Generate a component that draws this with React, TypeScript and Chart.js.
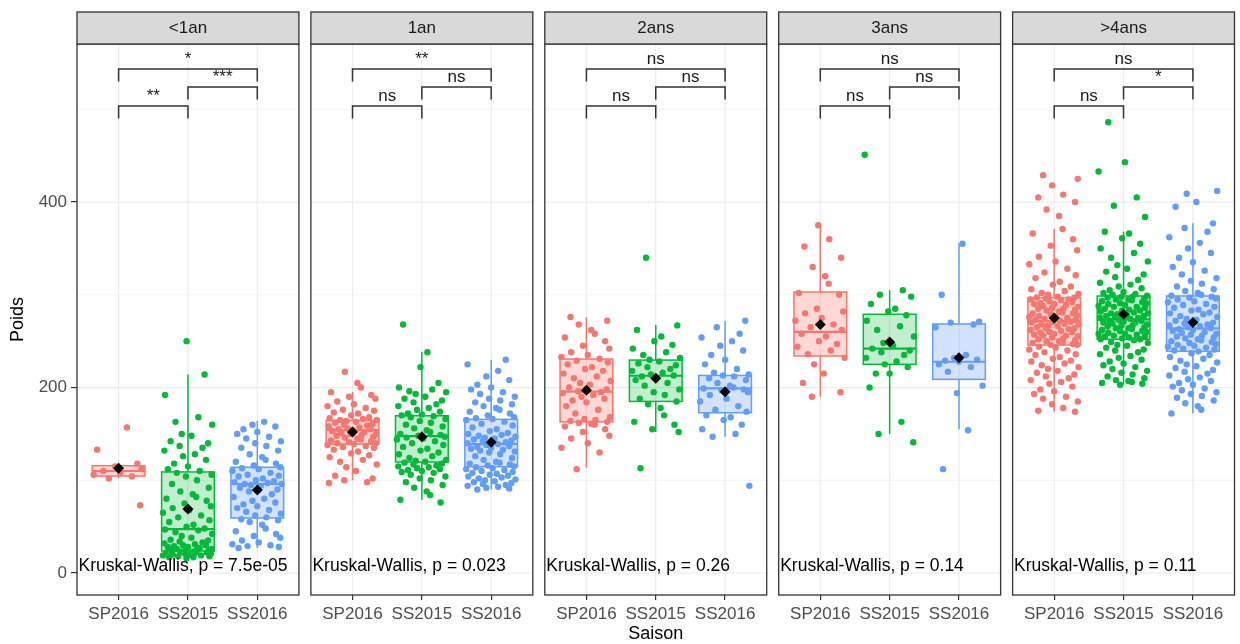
import React, { useEffect, useRef } from 'react';
import { Chart, registerables } from 'chart.js';

Chart.register(...registerables);

// ---------- data ----------
const PANELS = ['<1an', '1an', '2ans', '3ans', '>4ans'];
const CATEGORIES = ['SP2016', 'SS2015', 'SS2016'];
const Y_TICKS = [0, 200, 400];
const Y_MINOR = [100, 300, 500];

// box statistics [panel][category]
const Q1 = [[104.6, 23.7, 59.3], [139, 119.7, 114.6], [163, 185, 172.8], [234, 225, 208.8], [245.8, 252, 239]];
const MEDIAN = [[110, 47.4, 96], [154, 147.7, 139], [195.5, 212.7, 199], [260, 242, 227.8], [271.7, 273.5, 263.8]];
const Q3 = [[115.7, 109, 114], [164.6, 169.6, 165.7], [230.7, 229.6, 213], [303, 279, 268.5], [297, 298.7, 298.7]];
const WHISK_LO = [[102, 17, 27], [100, 79, 90], [113.5, 152, 147], [190, 150, 155], [174, 203, 172]];
const WHISK_HI = [[118, 214, 164], [195, 238.6, 229.6], [275.7, 267.4, 271.7], [373, 305, 355.5], [371, 368, 377]];
const MEAN = [[113, 69, 89.5], [152, 147, 141], [197, 210, 195.5], [268, 249, 232], [275, 279, 270]];

// observations
const LT1_SP2016 = [157, 133, 118, 115, 112, 110, 108, 106, 104, 102, 73];
const LT1_SS2015 = [250, 214, 192, 168, 163, 160, 150, 148, 142, 140, 137, 135, 132, 128, 126, 122, 118, 115, 112, 110, 108, 106, 104, 100, 96, 92, 88, 85, 82, 80, 78, 75, 72, 70, 68, 65, 62, 60, 57, 55, 52, 50, 48, 47, 46, 44, 42, 40, 38, 36, 35, 34, 33, 32, 31, 30, 30, 29, 28, 28, 27, 26, 26, 25, 25, 24, 24, 23, 23, 22, 22, 22, 21, 21, 20, 20, 19, 19, 18, 18, 17, 17, 16];
const LT1_SS2016 = [163, 160, 158, 155, 152, 150, 147, 145, 142, 140, 137, 135, 132, 128, 125, 122, 120, 118, 116, 114, 113, 112, 110, 108, 106, 105, 104, 102, 100, 99, 98, 97, 96, 96, 95, 94, 92, 90, 88, 85, 82, 80, 78, 76, 74, 72, 70, 68, 66, 64, 62, 60, 58, 57, 55, 52, 48, 45, 42, 40, 38, 35, 33, 31, 30, 29, 28, 27];

const A1_SP2016 = [217, 205, 200, 195, 192, 190, 188, 185, 182, 180, 178, 176, 175, 173, 172, 170, 168, 167, 166, 165, 165, 164, 163, 162, 161, 160, 159, 158, 157, 156, 155, 155, 154, 153, 152, 151, 150, 150, 149, 148, 147, 146, 145, 144, 143, 142, 141, 140, 140, 139, 138, 137, 136, 135, 133, 131, 129, 127, 125, 122, 120, 117, 114, 110, 105, 102, 100, 98, 97];
const A1_SS2015 = [268, 238, 222, 205, 200, 198, 196, 195, 193, 190, 188, 186, 184, 182, 180, 178, 176, 174, 172, 171, 170, 169, 168, 166, 164, 162, 160, 158, 156, 154, 152, 150, 149, 148, 147, 146, 145, 144, 142, 140, 138, 136, 134, 132, 130, 128, 126, 124, 122, 121, 120, 119, 118, 117, 116, 115, 114, 113, 112, 111, 110, 109, 108, 106, 104, 102, 100, 98, 95, 92, 88, 84, 79, 76];
const A1_SS2016 = [230, 225, 218, 212, 208, 203, 200, 198, 195, 193, 190, 188, 186, 184, 182, 180, 178, 176, 174, 172, 170, 168, 167, 166, 165, 163, 161, 159, 157, 155, 153, 151, 150, 149, 148, 147, 146, 145, 144, 143, 142, 141, 140, 139, 138, 137, 136, 135, 134, 133, 132, 131, 130, 128, 126, 124, 122, 120, 119, 118, 117, 116, 115, 114, 113, 112, 111, 110, 109, 108, 107, 106, 105, 104, 103, 102, 101, 100, 99, 98, 97, 96, 95, 94, 93, 92, 91, 90];

const A2_SP2016 = [276, 272, 268, 262, 258, 254, 250, 245, 242, 238, 235, 233, 231, 229, 227, 225, 222, 220, 218, 215, 212, 210, 207, 205, 203, 200, 198, 196, 195, 194, 192, 190, 188, 186, 184, 180, 176, 172, 168, 166, 165, 164, 163, 162, 161, 160, 158, 155, 152, 148, 145, 140, 135, 130, 112];
const A2_SS2015 = [340, 267, 262, 255, 250, 246, 242, 238, 235, 232, 230, 228, 226, 224, 222, 220, 218, 216, 214, 213, 212, 210, 208, 205, 202, 198, 195, 192, 188, 185, 182, 178, 170, 163, 160, 155, 152, 113];
const A2_SS2016 = [272, 265, 258, 254, 250, 245, 240, 235, 230, 225, 220, 216, 214, 213, 212, 210, 208, 205, 202, 200, 199, 198, 197, 195, 192, 188, 185, 180, 176, 174, 170, 168, 165, 160, 155, 150, 147, 94];

const A3_SP2016 = [375, 360, 352, 340, 330, 320, 312, 302, 300, 285, 282, 280, 275, 272, 268, 265, 262, 258, 255, 250, 247, 244, 240, 236, 232, 225, 215, 205, 195, 190];
const A3_SS2015 = [451, 305, 300, 298, 290, 285, 282, 278, 272, 266, 262, 255, 248, 245, 242, 240, 238, 235, 232, 228, 225, 222, 215, 215, 200, 163, 150, 141];
const A3_SS2016 = [355, 300, 271, 270, 268, 265, 235, 232, 230, 229, 228, 225, 222, 217, 202, 194, 154, 112];

const A4_SP2016 = [429, 425, 418, 408, 405, 400, 392, 385, 371, 366, 360, 353, 348, 341, 336, 333, 328, 324, 321, 318, 314, 311, 309, 306, 304, 302, 301, 300, 298, 297, 297, 296, 295, 295, 294, 293, 292, 291, 290, 290, 289, 288, 287, 286, 285, 285, 284, 283, 282, 281, 280, 280, 279, 278, 277, 276, 276, 275, 274, 273, 273, 272, 271, 271, 270, 269, 268, 268, 267, 266, 265, 264, 264, 263, 262, 261, 260, 260, 259, 258, 257, 256, 256, 255, 254, 253, 252, 251, 250, 250, 249, 248, 247, 246, 246, 244, 243, 241, 240, 238, 236, 235, 233, 231, 229, 228, 226, 224, 222, 220, 218, 216, 214, 212, 210, 208, 206, 204, 201, 198, 196, 193, 190, 188, 185, 182, 178, 175, 174];
const A4_SS2015 = [486, 443, 433, 405, 396, 384, 368, 366, 361, 355, 350, 345, 340, 336, 332, 328, 325, 322, 319, 316, 313, 311, 309, 307, 305, 303, 302, 301, 300, 299, 298, 298, 297, 296, 295, 295, 294, 293, 292, 291, 291, 290, 289, 288, 287, 287, 286, 285, 284, 283, 283, 282, 281, 280, 280, 279, 278, 277, 277, 276, 275, 275, 274, 273, 272, 272, 271, 270, 270, 269, 268, 267, 267, 266, 265, 264, 264, 263, 262, 261, 261, 260, 259, 258, 258, 257, 256, 255, 255, 254, 253, 252, 252, 251, 249, 248, 246, 245, 243, 241, 240, 238, 236, 234, 232, 230, 228, 226, 224, 222, 220, 218, 216, 214, 212, 210, 208, 207, 206, 205, 204, 203];
const A4_SS2016 = [412, 409, 400, 395, 377, 372, 368, 362, 356, 350, 345, 340, 335, 330, 326, 322, 318, 315, 312, 309, 306, 304, 302, 300, 299, 298, 297, 296, 295, 293, 292, 290, 289, 287, 286, 284, 283, 281, 280, 279, 277, 276, 274, 273, 272, 270, 269, 268, 267, 266, 265, 264, 263, 262, 261, 260, 259, 258, 257, 256, 255, 254, 253, 252, 251, 250, 249, 248, 247, 246, 245, 244, 243, 242, 241, 240, 239, 237, 235, 233, 231, 229, 227, 225, 223, 221, 219, 217, 215, 213, 211, 209, 207, 205, 203, 201, 199, 197, 195, 193, 191, 189, 186, 183, 180, 176, 172];

const OBSERVATIONS = [
  [LT1_SP2016, LT1_SS2015, LT1_SS2016],
  [A1_SP2016, A1_SS2015, A1_SS2016],
  [A2_SP2016, A2_SS2015, A2_SS2016],
  [A3_SP2016, A3_SS2015, A3_SS2016],
  [A4_SP2016, A4_SS2015, A4_SS2016],
];

// horizontal jitter offsets (category units)
const JITTER = [0.12, -0.31, 0.27, -0.05, 0.33, -0.22, 0.02, -0.36, 0.19, -0.14, 0.31, -0.27, 0.08, -0.02, 0.24, -0.33, 0.15, -0.18, 0.35, -0.09, 0.05, -0.25, 0.29, -0.12, 0.21, -0.34, 0.10, -0.07, 0.26, -0.20, 0.00, -0.29, 0.17, -0.16, 0.34, -0.03, 0.13, -0.23, 0.30, -0.11, 0.07];

// pairwise comparison labels
const SIG_12 = ['**', 'ns', 'ns', 'ns', 'ns'];
const SIG_23 = ['***', 'ns', 'ns', 'ns', '*'];
const SIG_13 = ['*', '**', 'ns', 'ns', 'ns'];
const BRACKET_Y = [503.5, 524, 543.4];
const BRACKET_TIP = 13.5;
const KW_P = ['7.5e-05', '0.023', '0.26', '0.14', '0.11'];
const KW_Y = 7;

// ---------- styling / layout ----------
const COLORS = ['#F8766D', '#00BA38', '#619CFF'];
const FILLS = ['rgba(248,118,109,0.28)', 'rgba(0,186,56,0.24)', 'rgba(97,156,255,0.28)'];
const FONT = "'Liberation Sans', Arial, sans-serif";
const Y_MIN = -23.7;
const Y_MAX = 570.4;
const PANEL_SPAN = 3.2;
const GAP = 0.173;
const X_MAX = PANELS.length * PANEL_SPAN + (PANELS.length - 1) * GAP;
const BOX_WIDTH = 0.76;

const panelLeft = (i: number) => i * (PANEL_SPAN + GAP);
const catX = (i: number, j: number) => panelLeft(i) + 0.6 + j;
const TICK_POS: number[] = [];
PANELS.forEach((_, i) => CATEGORIES.forEach((__, j) => TICK_POS.push(catX(i, j))));

function line(ctx: CanvasRenderingContext2D, x1: number, y1: number, x2: number, y2: number) {
  ctx.beginPath();
  ctx.moveTo(x1, y1);
  ctx.lineTo(x2, y2);
  ctx.stroke();
}

const facetPlugin = {
  id: 'facet',
  beforeDatasetsDraw(chart: any) {
    const { ctx, chartArea: ca, scales } = chart;
    const xs = scales.x;
    const ys = scales.y;
    ctx.save();
    PANELS.forEach((_, i) => {
      const l = xs.getPixelForValue(panelLeft(i));
      const r = xs.getPixelForValue(panelLeft(i) + PANEL_SPAN);
      ctx.lineWidth = 0.8;
      ctx.strokeStyle = '#F0F0F0';
      Y_MINOR.forEach((v) => {
        const yy = ys.getPixelForValue(v);
        line(ctx, l, yy, r, yy);
      });
      ctx.lineWidth = 1.2;
      ctx.strokeStyle = '#EBEBEB';
      Y_TICKS.forEach((v) => {
        const yy = ys.getPixelForValue(v);
        line(ctx, l, yy, r, yy);
      });
      CATEGORIES.forEach((__, j) => {
        const xx = xs.getPixelForValue(catX(i, j));
        line(ctx, xx, ca.top, xx, ca.bottom);
      });
      CATEGORIES.forEach((__, j) => {
        const cx = xs.getPixelForValue(catX(i, j));
        const hw = xs.getPixelForValue(catX(i, j) + BOX_WIDTH / 2) - cx;
        const yq1 = ys.getPixelForValue(Q1[i][j]);
        const yq3 = ys.getPixelForValue(Q3[i][j]);
        const ymed = ys.getPixelForValue(MEDIAN[i][j]);
        const ylo = ys.getPixelForValue(WHISK_LO[i][j]);
        const yhi = ys.getPixelForValue(WHISK_HI[i][j]);
        ctx.strokeStyle = COLORS[j];
        ctx.lineWidth = 1.5;
        line(ctx, cx, yq3, cx, yhi);
        line(ctx, cx, yq1, cx, ylo);
        ctx.fillStyle = FILLS[j];
        ctx.fillRect(cx - hw, yq3, 2 * hw, yq1 - yq3);
        ctx.strokeRect(cx - hw, yq3, 2 * hw, yq1 - yq3);
        ctx.lineWidth = 2.2;
        line(ctx, cx - hw, ymed, cx + hw, ymed);
      });
    });
    ctx.restore();
  },
  afterDatasetsDraw(chart: any) {
    const { ctx, chartArea: ca, scales } = chart;
    const xs = scales.x;
    const ys = scales.y;
    ctx.save();
    PANELS.forEach((name, i) => {
      const l = xs.getPixelForValue(panelLeft(i));
      const r = xs.getPixelForValue(panelLeft(i) + PANEL_SPAN);
      // Kruskal-Wallis label
      ctx.fillStyle = '#000000';
      ctx.font = `17.5px ${FONT}`;
      ctx.textAlign = 'left';
      ctx.textBaseline = 'middle';
      ctx.fillText(`Kruskal-Wallis, p = ${KW_P[i]}`, l + 1.5, ys.getPixelForValue(KW_Y));
      // panel border
      ctx.strokeStyle = '#333333';
      ctx.lineWidth = 1.3;
      ctx.strokeRect(l, ca.top, r - l, ca.bottom - ca.top);
      // strip
      const st = ca.top - 32;
      ctx.fillStyle = '#D9D9D9';
      ctx.fillRect(l, st, r - l, 32);
      ctx.strokeRect(l, st, r - l, 32);
      ctx.fillStyle = '#1A1A1A';
      ctx.font = `17px ${FONT}`;
      ctx.textAlign = 'center';
      ctx.textBaseline = 'middle';
      ctx.fillText(name, (l + r) / 2, st + 16.5);
      // brackets
      const defs: [number, number, string, number][] = [
        [0, 1, SIG_12[i], BRACKET_Y[0]],
        [1, 2, SIG_23[i], BRACKET_Y[1]],
        [0, 2, SIG_13[i], BRACKET_Y[2]],
      ];
      defs.forEach(([a, b, lab, yv]) => {
        const xa = xs.getPixelForValue(catX(i, a));
        const xb = xs.getPixelForValue(catX(i, b));
        const yt = ys.getPixelForValue(yv);
        const yb = ys.getPixelForValue(yv - BRACKET_TIP);
        ctx.strokeStyle = '#333333';
        ctx.lineWidth = 1.5;
        ctx.beginPath();
        ctx.moveTo(xa, yb);
        ctx.lineTo(xa, yt);
        ctx.lineTo(xb, yt);
        ctx.lineTo(xb, yb);
        ctx.stroke();
        ctx.fillStyle = '#1A1A1A';
        ctx.font = `17px ${FONT}`;
        ctx.textAlign = 'center';
        ctx.textBaseline = 'alphabetic';
        ctx.fillText(lab, (xa + xb) / 2, yt - 5);
      });
    });
    ctx.restore();
  },
};

export default function App() {
  const ref = useRef<HTMLCanvasElement | null>(null);
  useEffect(() => {
    if (!ref.current) return;
    const datasets: any[] = [];
    const meanPts: { x: number; y: number }[] = [];
    PANELS.forEach((_, i) => {
      CATEGORIES.forEach((__, j) => {
        meanPts.push({ x: catX(i, j), y: MEAN[i][j] });
      });
    });
    datasets.push({
      type: 'scatter',
      data: meanPts,
      pointStyle: 'rectRot',
      pointRadius: 5.5,
      backgroundColor: '#000000',
      borderWidth: 0,
      order: 0,
    });
    OBSERVATIONS.forEach((panel, i) => {
      panel.forEach((vals, j) => {
        const g = i * 3 + j;
        datasets.push({
          type: 'scatter',
          data: vals.map((v, k) => ({ x: catX(i, j) + JITTER[(k + g * 13) % JITTER.length], y: v })),
          pointRadius: 3.2,
          backgroundColor: COLORS[j],
          borderWidth: 0,
          order: 1,
        });
      });
    });

    const chart = new Chart(ref.current, {
      type: 'scatter',
      data: { datasets },
      plugins: [facetPlugin],
      options: {
        animation: false,
        responsive: false,
        devicePixelRatio: 1,
        events: [],
        layout: { padding: { top: 44, right: 4, left: 0, bottom: 0 } },
        plugins: { legend: { display: false }, tooltip: { enabled: false } },
        scales: {
          x: {
            type: 'linear',
            min: 0,
            max: X_MAX,
            afterBuildTicks: (s: any) => {
              s.ticks = TICK_POS.map((v) => ({ value: v }));
            },
            afterFit: (s: any) => {
              s.height = 49;
            },
            ticks: {
              autoSkip: false,
              maxRotation: 0,
              minRotation: 0,
              padding: 4,
              color: '#4D4D4D',
              font: { family: FONT, size: 17 },
              callback: (_v: any, idx: number) => CATEGORIES[idx % 3],
            },
            grid: { drawOnChartArea: false, drawTicks: true, tickLength: 5, color: '#333333', tickColor: '#333333', lineWidth: 1.2 },
            border: { display: false },
            title: { display: true, text: 'Saison', color: '#000000', font: { family: FONT, size: 18 }, padding: { top: 0, bottom: -1 } },
          },
          y: {
            type: 'linear',
            min: Y_MIN,
            max: Y_MAX,
            afterBuildTicks: (s: any) => {
              s.ticks = Y_TICKS.map((v) => ({ value: v }));
            },
            afterFit: (s: any) => {
              s.width = 77;
            },
            ticks: { padding: 4, color: '#4D4D4D', font: { family: FONT, size: 17 } },
            grid: { drawOnChartArea: false, drawTicks: true, tickLength: 6, color: '#333333', tickColor: '#333333', lineWidth: 1.2 },
            border: { display: false },
            title: { display: true, text: 'Poids', color: '#000000', font: { family: FONT, size: 18 }, padding: { top: 7, bottom: 0 } },
          },
        },
      },
    } as any);
    return () => chart.destroy();
  }, []);

  return (
    <div style={{ position: 'absolute', left: 0, top: 0, width: 1240, height: 644, background: '#ffffff' }}>
      <canvas ref={ref} width={1240} height={644} style={{ width: 1240, height: 644, display: 'block' }} />
    </div>
  );
}
